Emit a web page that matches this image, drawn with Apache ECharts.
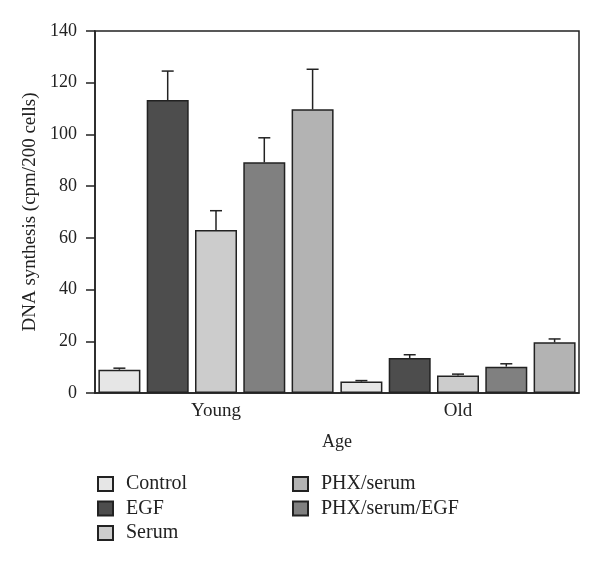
<!DOCTYPE html>
<html><head><meta charset="utf-8">
<script src="https://cdn.jsdelivr.net/npm/echarts@6/dist/echarts.min.js"></script>
<style>html,body{margin:0;padding:0;background:#fff}#c{width:600px;height:565px}</style>
</head><body><div id="c"></div>
<script>
var categories = ['Young', 'Old'];
var seriesNames = ['Control', 'EGF', 'Serum', 'PHX/serum/EGF', 'PHX/serum'];
var control = [9.0, 4.4];
var egf = [113.3, 13.5];
var serum = [63.0, 6.8];
var phxSerumEgf = [89.2, 10.2];
var phxSerum = [109.7, 19.6];
var controlErr = [0.6, 0.4];
var egfErr = [11.2, 1.3];
var serumErr = [7.5, 0.5];
var phxSerumEgfErr = [9.5, 1.1];
var phxSerumErr = [15.5, 1.3];
var yTicks = [0, 20, 40, 60, 80, 100, 120, 140];
var legendOrder1 = ['Control', 'EGF', 'Serum'];
var legendOrder2 = ['PHX/serum', 'PHX/serum/EGF'];

var values = [control, egf, serum, phxSerumEgf, phxSerum];
var errs = [controlErr, egfErr, serumErr, phxSerumEgfErr, phxSerumErr];
var colors = ['#e6e6e6', '#4d4d4d', '#cccccc', '#808080', '#b3b3b3'];
var font = 'Liberation Serif';
var BW = 42, GAP = 0.15;
var n = values.length;
var total = n * BW + (n - 1) * BW * GAP;

var series = [];
values.forEach(function (v, i) {
  series.push({
    name: seriesNames[i], type: 'bar', data: v, barWidth: BW, barGap: (GAP * 100) + '%',
    itemStyle: { color: colors[i], borderColor: '#222', borderWidth: 1.5 }
  });
});
values.forEach(function (v, i) {
  var off = -total / 2 + i * BW * (1 + GAP) + BW / 2;
  series.push({
    type: 'custom', silent: true, z: 1,
    data: v.map(function (val, j) { return [j, val, val + errs[i][j]]; }),
    renderItem: function (params, api) {
      var base = api.coord([api.value(0), api.value(1)]);
      var top = api.coord([api.value(0), api.value(2)]);
      var x = base[0] + off;
      var st = { stroke: '#222', lineWidth: 1.5 };
      return { type: 'group', children: [
        { type: 'line', shape: { x1: x, y1: base[1], x2: x, y2: top[1] }, style: st },
        { type: 'line', shape: { x1: x - 6, y1: top[1], x2: x + 6, y2: top[1] }, style: st }
      ] };
    }
  });
});

var legendText = { fontFamily: font, fontSize: 20, lineHeight: 20, color: '#222', padding: [0, 0, 0, 8] };
var chart = echarts.init(document.getElementById('c'));
chart.setOption({
  animation: false,
  textStyle: { fontFamily: font },
  grid: { left: 95, right: 21, top: 31, bottom: 172, show: true, borderColor: '#222', borderWidth: 1.5 },
  legend: [
    { data: legendOrder1, orient: 'vertical', left: 97, top: 474, padding: 0, itemWidth: 15, itemHeight: 14, itemGap: 4.5,
      icon: 'rect', textStyle: legendText },
    { data: legendOrder2, orient: 'vertical', left: 292, top: 474, padding: 0, itemWidth: 15, itemHeight: 14, itemGap: 4.5,
      icon: 'rect', textStyle: legendText }
  ],
  xAxis: {
    type: 'category', data: categories, name: 'Age', nameLocation: 'middle', nameGap: 40,
    nameTextStyle: { fontFamily: font, fontSize: 18, color: '#222' },
    axisLine: { lineStyle: { color: '#222', width: 1.5 } }, axisTick: { show: false },
    axisLabel: { fontFamily: font, fontSize: 19, color: '#222', margin: 9 }
  },
  yAxis: {
    type: 'value', min: 0, max: 140, interval: 20,
    name: 'DNA synthesis (cpm/200 cells)', nameLocation: 'middle', nameGap: 47,
    nameTextStyle: { fontFamily: font, fontSize: 19, color: '#222' },
    axisLine: { show: true, lineStyle: { color: '#222', width: 1.5 } },
    axisTick: { show: true, length: 9, lineStyle: { color: '#222', width: 1.5 } },
    axisLabel: { fontFamily: font, fontSize: 18, color: '#222', margin: 18,
      formatter: function (v) { return yTicks.indexOf(v) >= 0 ? String(v) : ''; } },
    splitLine: { show: false }
  },
  series: series
});
</script></body></html>
